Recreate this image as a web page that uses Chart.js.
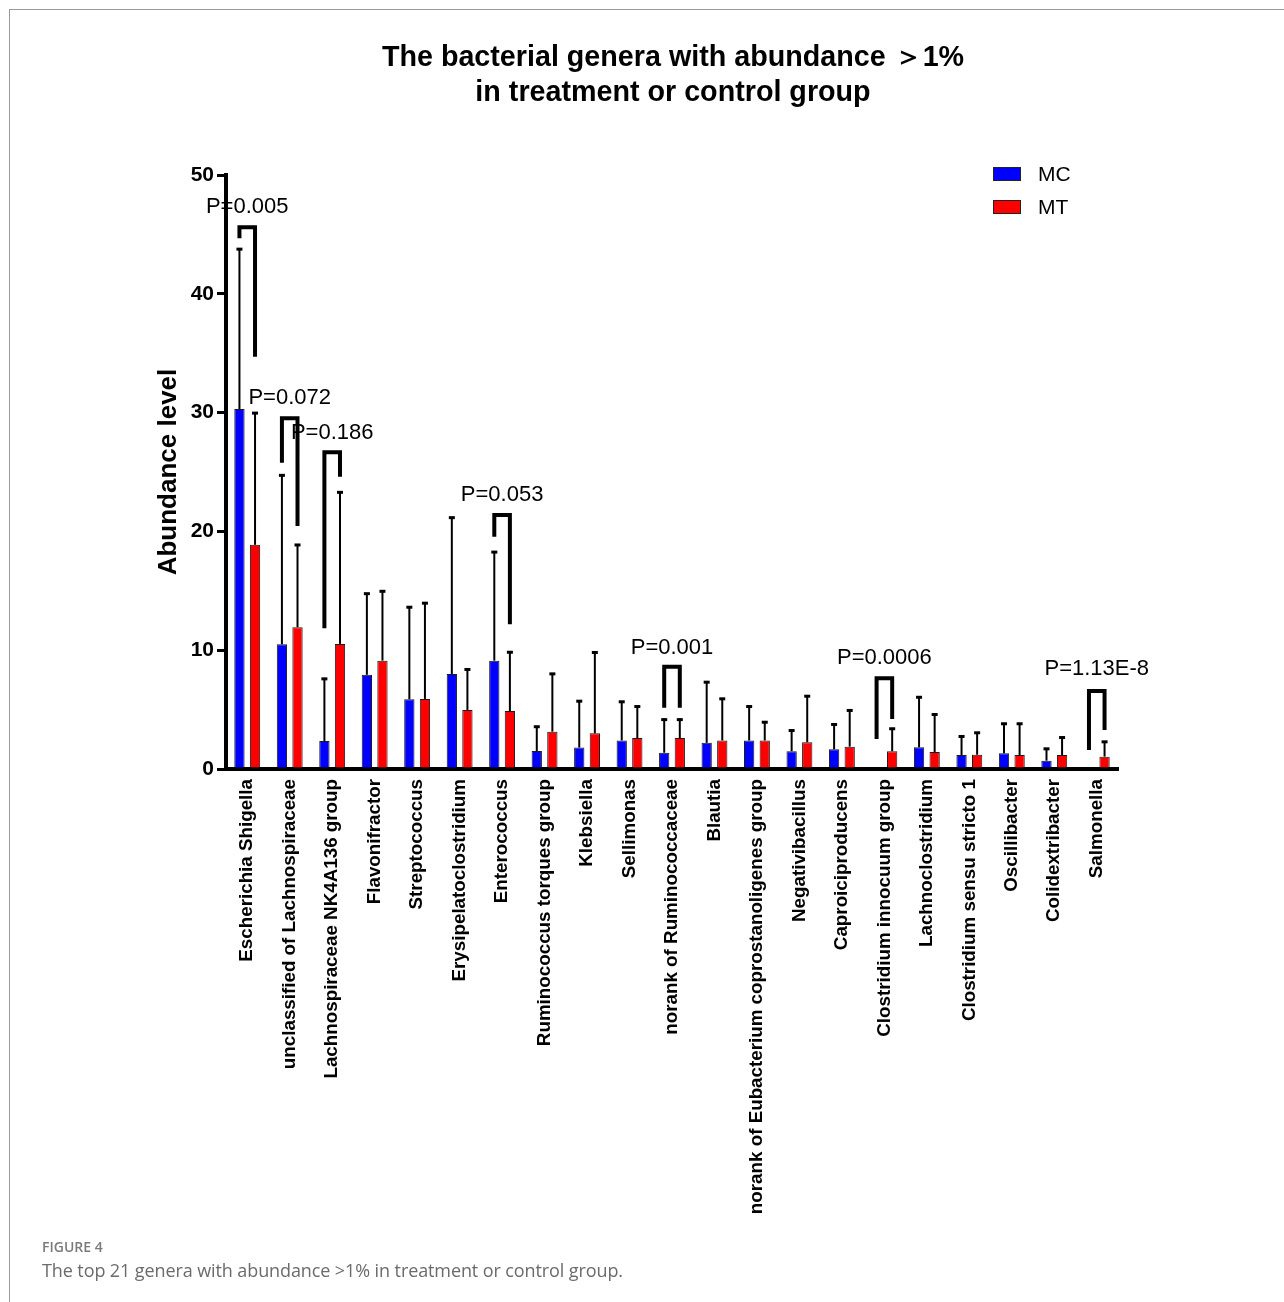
<!DOCTYPE html>
<html>
<head>
<meta charset="utf-8">
<title>Bacterial genera abundance</title>
<script src="https://cdn.jsdelivr.net/npm/chart.js@4.4.1/dist/chart.umd.min.js"></script>
<style>
  html, body { margin: 0; padding: 0; background: #fff; }
  body { width: 1284px; height: 1302px; position: relative; overflow: hidden; font-family: 'Liberation Sans', Arial, sans-serif; }
  #frame { position: absolute; left: 9px; top: 9px; width: 1300px; height: 1320px; border-top: 1.5px solid #9a9a9a; border-left: 1.5px solid #9a9a9a; }
  #chart { position: absolute; left: 0; top: 0; }
  #title { position: absolute; left: 273px; width: 800px; top: 39px; text-align: center; font: bold 28.7px/35px 'Liberation Sans', Arial, sans-serif; color: #000; }
  #figno { position: absolute; left: 42px; top: 1237px; font: 600 14px 'Open Sans', sans-serif; color: #7a7a7a; }
  #caption { position: absolute; left: 42px; top: 1258px; font: 18px 'Open Sans', sans-serif; color: #6b6b6b; letter-spacing: -0.1px; }
</style>
</head>
<body>
<div id="frame"></div>
<canvas id="chart" width="1284" height="1302"></canvas>
<div id="title">The bacterial genera with abundance ＞1%<br>in treatment or control group</div>
<div id="figno">FIGURE 4</div>
<div id="caption">The top 21 genera with abundance &gt;1% in treatment or control group.</div>
<script>
// Genera, in plotted order
const categories = [
  'Escherichia Shigella', 'unclassified of Lachnospiraceae', 'Lachnospiraceae NK4A136 group',
  'Flavonifractor', 'Streptococcus', 'Erysipelatoclostridium', 'Enterococcus',
  'Ruminococcus torques group', 'Klebsiella', 'Sellimonas', 'norank of Ruminococcaceae',
  'Blautia', 'norank of Eubacterium coprostanoligenes group', 'Negativibacillus',
  'Caproiciproducens', 'Clostridium innocuum group', 'Lachnoclostridium',
  'Clostridium sensu stricto 1', 'Oscillibacter', 'Colidextribacter', 'Salmonella'
];

// Mean abundance (%) and upper SD for each group
const mcMeans = [30.3, 10.5, 2.36, 7.93, 5.87, 8.0, 9.12, 1.52, 1.8, 2.4, 1.37, 2.2, 2.4, 1.5, 1.66, 0, 1.83, 1.18, 1.32, 0.7, 0];
const mcSD    = [13.5, 14.26, 5.27, 6.87, 7.79, 13.2, 9.18, 2.08, 3.95, 3.3, 2.83, 5.15, 2.9, 1.78, 2.13, 0, 4.25, 1.6, 2.53, 1.04, 0];
const mtMeans = [18.87, 11.94, 10.53, 9.12, 5.9, 4.97, 4.88, 3.14, 3.0, 2.6, 2.6, 2.4, 2.4, 2.25, 1.88, 1.5, 1.43, 1.2, 1.18, 1.18, 1.04];
const mtSD    = [11.13, 6.96, 12.8, 5.88, 8.1, 3.45, 4.99, 4.91, 6.85, 2.7, 1.6, 3.55, 1.58, 3.92, 3.09, 1.93, 3.2, 1.89, 2.67, 1.51, 1.29];

const groupNames = ['MC', 'MT'];
const yTicks = [0, 10, 20, 30, 40, 50];

// Significance annotations (category index, text, and levels in abundance units)
const pCategory      = [0, 1, 2, 6, 10, 15, 20];
const pTexts         = ['P=0.005', 'P=0.072', 'P=0.186', 'P=0.053', 'P=0.001', 'P=0.0006', 'P=1.13E-8'];
const pTextLevel     = [47.3, 31.2, 28.3, 23.1, 10.2, 9.32, 8.39];
const bracketTop     = [45.6, 29.52, 26.66, 21.38, 8.61, 7.63, 6.57];
const bracketLeftEnd = [44.67, 25.78, 11.84, 19.55, 5.16, 2.53, 1.6];
const bracketRightEnd= [34.7, 20.45, 24.6, 12.18, 5.16, 4.21, 3.28];

const FONT = "'Liberation Sans', Arial, sans-serif";

const annotations = {
  id: 'annotations',
  afterDatasetsDraw(chart) {
    const ctx = chart.ctx;
    const xs = chart.scales.x, ys = chart.scales.y;
    const metaMC = chart.getDatasetMeta(0), metaMT = chart.getDatasetMeta(1);
    ctx.save();
    // upper error bars
    [[metaMC, mcMeans, mcSD], [metaMT, mtMeans, mtSD]].forEach(([meta, means, sd]) => {
      meta.data.forEach((bar, i) => {
        if (!sd[i]) return;
        const y0 = ys.getPixelForValue(means[i]);
        const y1 = ys.getPixelForValue(means[i] + sd[i]);
        ctx.strokeStyle = '#000';
        ctx.lineWidth = 2;
        ctx.beginPath();
        ctx.moveTo(bar.x, y0);
        ctx.lineTo(bar.x, y1);
        ctx.stroke();
        ctx.fillStyle = '#000';
        ctx.fillRect(bar.x - 3, y1 - 1, 6, 3);
      });
    });
    // significance brackets
    ctx.lineWidth = 4;
    ctx.lineJoin = 'miter';
    ctx.lineCap = 'butt';
    ctx.strokeStyle = '#000';
    pCategory.forEach((c, k) => {
      const xl = metaMC.data[c].x, xr = metaMT.data[c].x;
      ctx.beginPath();
      ctx.moveTo(xl, ys.getPixelForValue(bracketLeftEnd[k]));
      ctx.lineTo(xl, ys.getPixelForValue(bracketTop[k]));
      ctx.lineTo(xr, ys.getPixelForValue(bracketTop[k]));
      ctx.lineTo(xr, ys.getPixelForValue(bracketRightEnd[k]));
      ctx.stroke();
      ctx.fillStyle = '#000';
      ctx.font = '22px ' + FONT;
      ctx.textAlign = 'center';
      ctx.textBaseline = 'middle';
      ctx.fillText(pTexts[k], xs.getPixelForValue(c), ys.getPixelForValue(pTextLevel[k]));
    });
    ctx.restore();
  },
  afterDraw(chart) {
    // legend, upper right
    const ctx = chart.ctx;
    ctx.save();
    chart.data.datasets.forEach((ds, i) => {
      const top = 167 + i * 33;
      ctx.fillStyle = ds.backgroundColor;
      ctx.fillRect(993, top, 28, 14);
      ctx.strokeStyle = '#222';
      ctx.lineWidth = 1;
      ctx.strokeRect(993.5, top + 0.5, 27, 13);
      ctx.fillStyle = '#000';
      ctx.font = '21px ' + FONT;
      ctx.textAlign = 'left';
      ctx.textBaseline = 'middle';
      ctx.fillText(ds.label, 1038, top + 8);
    });
    ctx.restore();
  }
};

new Chart(document.getElementById('chart'), {
  type: 'bar',
  data: {
    labels: categories,
    datasets: [
      { label: groupNames[0], data: mcMeans, backgroundColor: '#0000ff', borderColor: '#1a1a1a', borderWidth: 1 },
      { label: groupNames[1], data: mtMeans, backgroundColor: '#ff0000', borderColor: '#1a1a1a', borderWidth: 1 }
    ]
  },
  options: {
    responsive: false,
    animation: false,
    devicePixelRatio: 1,
    layout: { padding: { left: 0, top: 175, right: 166, bottom: 0 } },
    datasets: { bar: { categoryPercentage: 0.734, barPercentage: 0.66 } },
    plugins: { legend: { display: false }, title: { display: false }, tooltip: { enabled: false } },
    scales: {
      x: {
        offset: true,
        grid: { display: true, drawOnChartArea: false, drawTicks: false, color: 'rgba(0,0,0,0)' },
        border: { display: true, color: '#000', width: 4 },
        ticks: { autoSkip: false, minRotation: 90, maxRotation: 90, padding: 10, color: '#000',
                 font: { family: FONT, size: 18.8, weight: 'bold' } },
        afterFit(scale) { scale.height = 1302 - 769; }
      },
      y: {
        min: 0, max: 50,
        afterBuildTicks(scale) { scale.ticks = yTicks.map(v => ({ value: v })); },
        grid: { drawOnChartArea: false, drawTicks: true, tickLength: 9, lineWidth: 3, color: '#000' },
        border: { display: true, color: '#000', width: 4 },
        ticks: { padding: 3, color: '#000', font: { family: FONT, size: 21, weight: 'bold' } },
        title: { display: true, text: 'Abundance level', color: '#000',
                 font: { family: FONT, size: 26, weight: 'bold' }, padding: { top: 153, bottom: 0 } },
        afterFit(scale) { scale.width = 226; }
      }
    }
  },
  plugins: [annotations]
});
</script>
</body>
</html>
